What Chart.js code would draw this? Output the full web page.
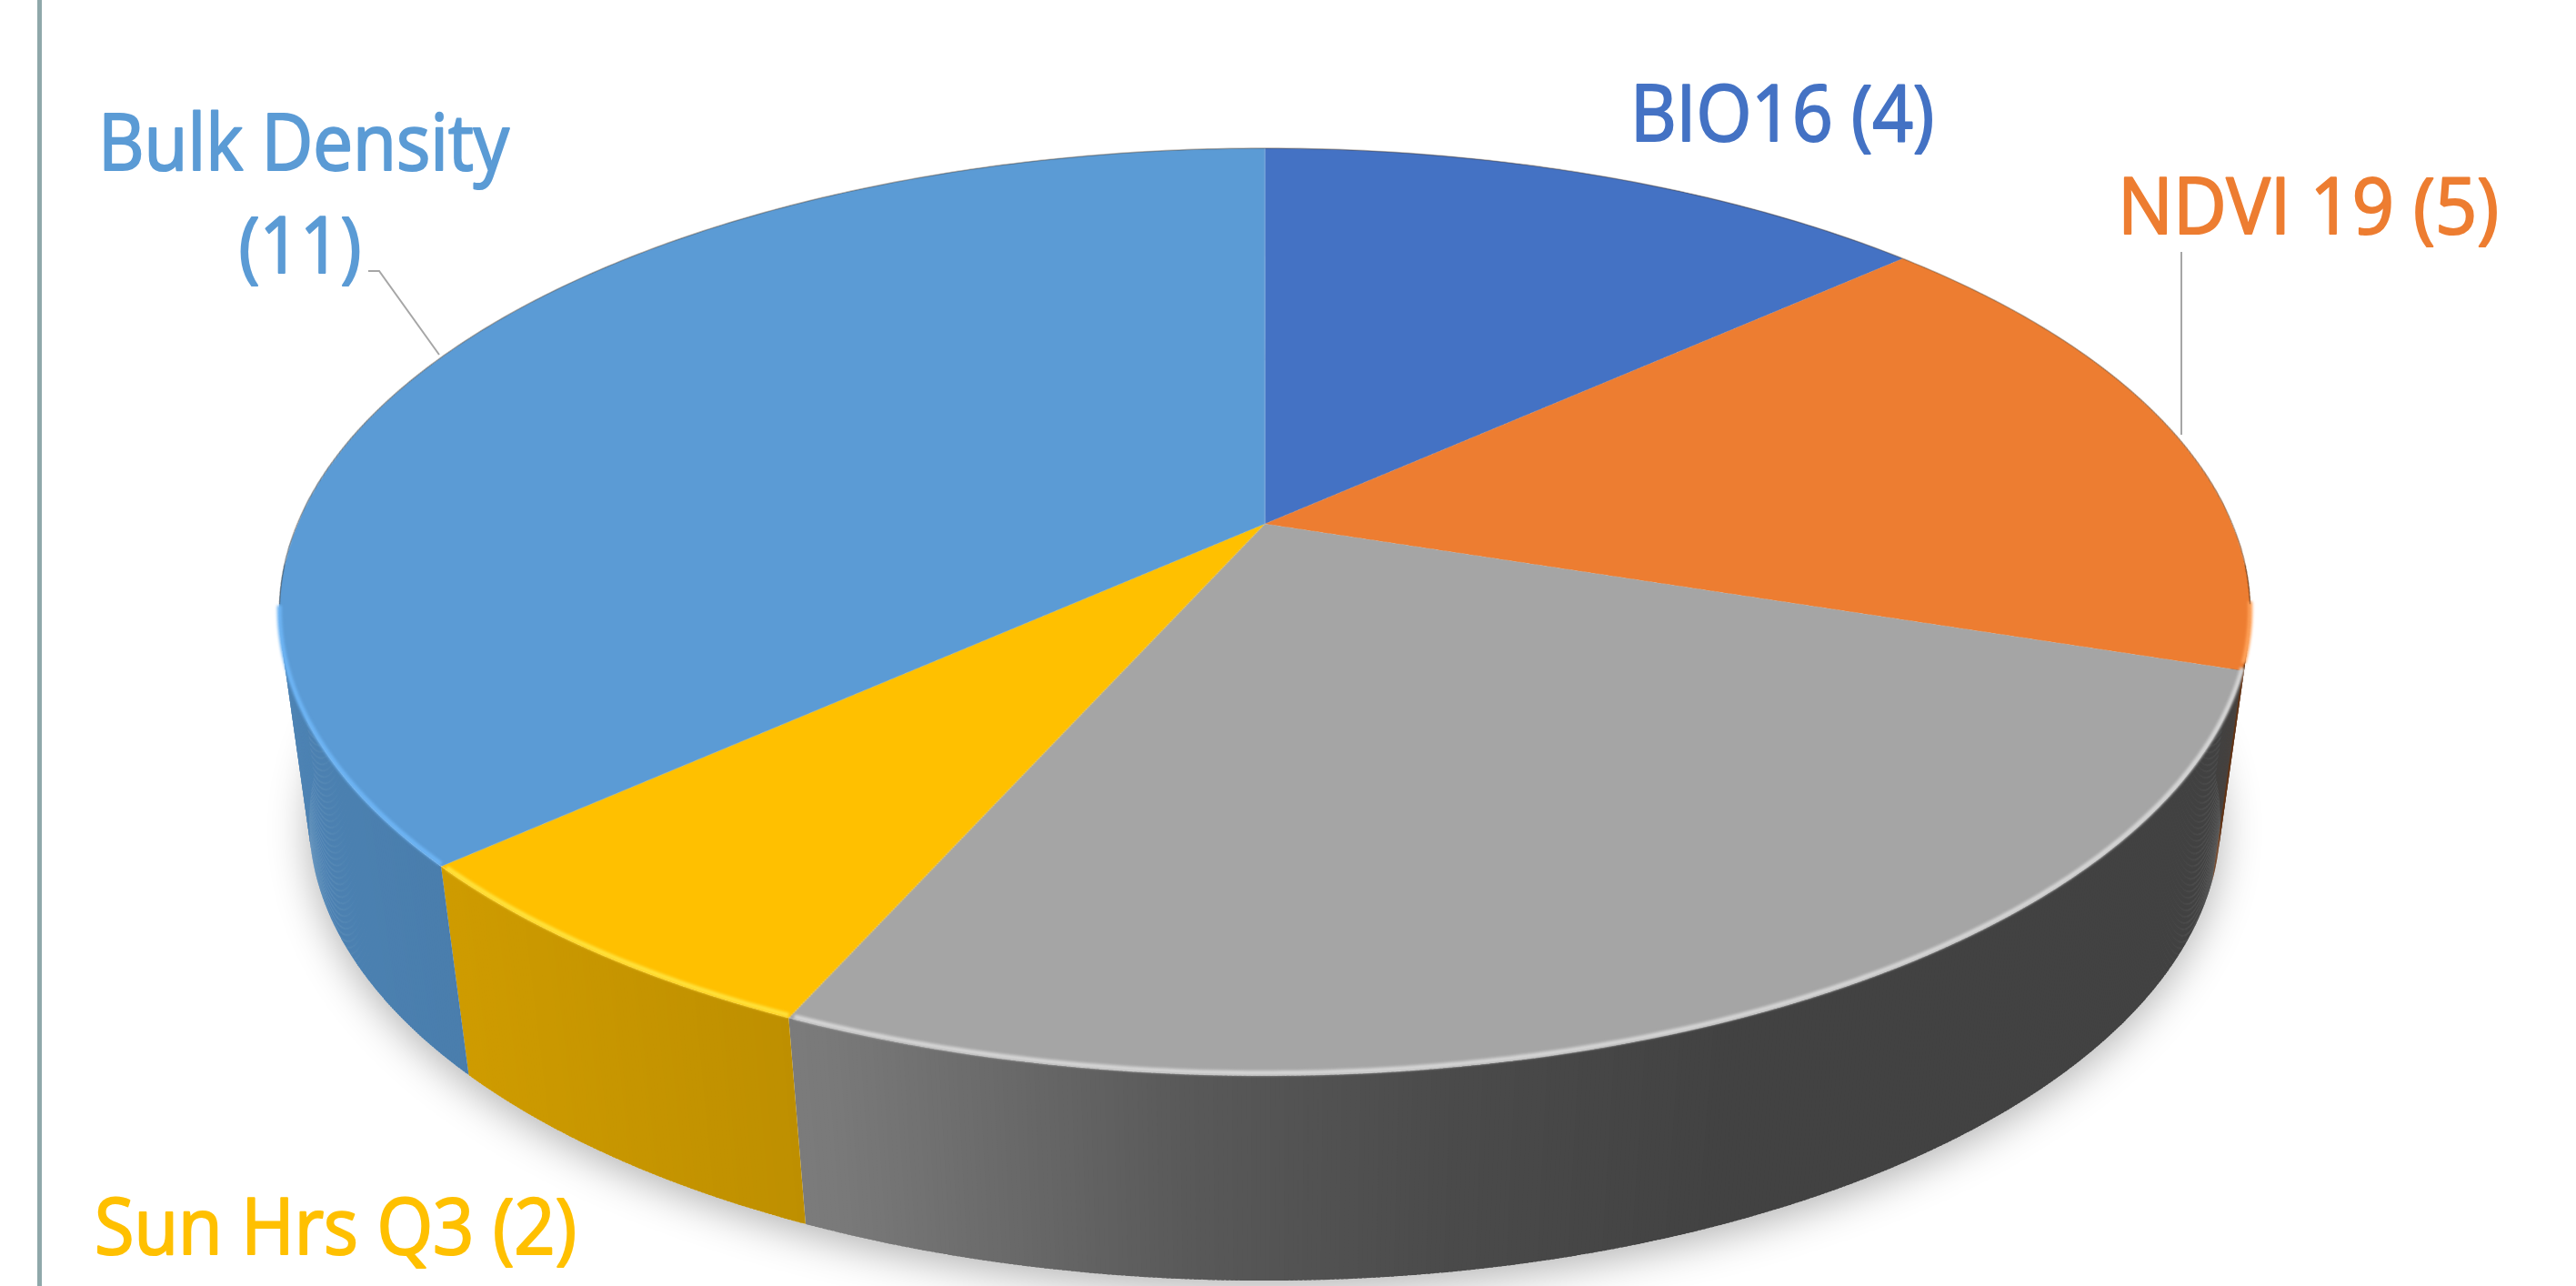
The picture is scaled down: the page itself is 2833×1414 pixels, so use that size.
<!DOCTYPE html>
<html><head><meta charset="utf-8">
<script src="https://cdn.jsdelivr.net/npm/chart.js@4.4.1/dist/chart.umd.min.js"></script>
<style>html,body{margin:0;padding:0;background:#fff;overflow:hidden}#wrap{width:2833px;height:1414px;position:relative}canvas{display:block}</style>
</head><body><div id="wrap"><canvas id="c" width="2833" height="1414"></canvas></div>
<script>
// ---- data ----
const categories = ["BIO16", "NDVI 19", "Other", "Sun Hrs Q3", "Bulk Density"];
const values = [4, 5, 8, 2, 11];
const showLabel = [true, true, false, true, true];

// ---- styles ----
const colors = ["#4472C4", "#ED7D31", "#A5A5A5", "#FFC000", "#5B9BD5"];
const rimLight = ["#6E9BE8", "#FFA25A", "#D6D6D6", "#FFE23C", "#6DB4F4"];
const labelLayout = [
  {x: 1793, y: 155, w: 334, align: "left"},
  {x: 2329, y: 257, w: 419, align: "left"},
  null,
  {x: 104, y: 1379, w: 530, align: "left"},
  {x: 334, y: 187, w: 452, align: "center", line2: {x: 330, y: 300, w: 135}}
];
// projection of the top and bottom discs (perspective)
const TOP = {cx: 1391, k: 1064, a: 382, b: 576, c: -0.19};
const BOT = {cx: 1391, k: 1033, a: 340, b: 809, c: -0.184};

function hexRgb(h){h=h.replace('#','');return [parseInt(h.slice(0,2),16),parseInt(h.slice(2,4),16),parseInt(h.slice(4,6),16)];}
function proj(P, th){const X=Math.sin(th), z=-Math.cos(th); const d=1+P.c*z; return [P.cx+P.k*X/d, (P.a*z+P.b)/d];}
function shade(x){
  const pts=[[0,0.86],[300,0.84],[900,0.74],[1300,0.54],[1600,0.45],[1900,0.40],[2833,0.40]];
  for(let i=1;i<pts.length;i++){ if(x<=pts[i][0]){const [x0,f0]=pts[i-1],[x1,f1]=pts[i];return f0+(f1-f0)*(x-x0)/(x1-x0);} }
  return 0.4;
}

const pie3d = {
  id: 'pie3d',
  afterDatasetsDraw(chart){
    const ctx = chart.ctx;
    const meta = chart.getDatasetMeta(0);
    const el0 = meta.data[0];
    const Cx = el0.x, Cy = el0.y, R = el0.outerRadius;
    const W = chart.canvas.width, H = chart.canvas.height;
    const off = document.createElement('canvas'); off.width = W; off.height = H;
    off.getContext('2d').drawImage(chart.canvas, 0, 0);
    ctx.save();
    ctx.setTransform(1,0,0,1,0,0);
    ctx.clearRect(0,0,W,H);
    ctx.fillStyle = '#fff'; ctx.fillRect(0,0,W,H);

    // soft shadow under the disc
    ctx.save();
    ctx.beginPath();
    for(let t=0;t<=360;t+=1){const p=proj(BOT,t*Math.PI/180); if(t===0)ctx.moveTo(p[0],p[1]); else ctx.lineTo(p[0],p[1]);}
    ctx.closePath();
    ctx.shadowColor='rgba(0,0,0,0.30)'; ctx.shadowBlur=45; ctx.shadowOffsetY=10;
    ctx.fillStyle='#fff'; ctx.fill();
    ctx.restore();

    // side walls (front half)
    const lo = 95*Math.PI/180, hi = 265*Math.PI/180, step = 0.004;
    meta.data.forEach((el, i) => {
      const ts = el.startAngle + Math.PI/2, te = el.endAngle + Math.PI/2;
      const a = Math.max(ts, lo), b = Math.min(te, hi);
      if (b <= a) return;
      const base = hexRgb(colors[i]);
      for(let t=a; t<b; t+=step){
        const t2 = Math.min(t+step*1.6, b);
        const p1=proj(TOP,t), p2=proj(TOP,t2), q2=proj(BOT,t2), q1=proj(BOT,t);
        const f = shade((p1[0]+p2[0])/2);
        ctx.fillStyle = `rgb(${Math.round(base[0]*f)},${Math.round(base[1]*f)},${Math.round(base[2]*f)})`;
        ctx.beginPath(); ctx.moveTo(p1[0],p1[1]); ctx.lineTo(p2[0],p2[1]); ctx.lineTo(q2[0],q2[1]); ctx.lineTo(q1[0],q1[1]); ctx.closePath(); ctx.fill();
      }
    });

    // top face: warp the library-drawn pie with perspective, row by row
    for(let y=150; y<1195; y++){
      const yc = y+0.5;
      const z = (yc - TOP.b)/(TOP.a - TOP.c*yc);
      if (z < -1 || z > 1) continue;
      const s = TOP.k/(1+TOP.c*z);
      const sy = Cy + R*z;
      ctx.drawImage(off, Cx-R, sy-0.5, 2*R, 1, TOP.cx - s, y, 2*s, 1);
    }

    // rim highlight on the front edge
    ctx.save();
    ctx.filter = 'blur(1.5px)';
    ctx.lineWidth = 5; ctx.lineCap='butt';
    meta.data.forEach((el, i) => {
      const ts = el.startAngle + Math.PI/2, te = el.endAngle + Math.PI/2;
      const a = Math.max(ts, 100*Math.PI/180), b = Math.min(te, 260*Math.PI/180);
      if (b <= a) return;
      ctx.strokeStyle = rimLight[i];
      ctx.beginPath();
      for(let t=a; t<=b+1e-9; t+=0.01){const p=proj(TOP,Math.min(t,b)); const yy=p[1]-3; if(t===a)ctx.moveTo(p[0],yy); else ctx.lineTo(p[0],yy);}
      ctx.stroke();
    });
    ctx.restore();
    // thin dark outline on back rim
    ctx.save();
    ctx.lineWidth = 1.5; ctx.strokeStyle='rgba(60,40,20,0.35)';
    ctx.beginPath();
    for(let d=-100; d<=100; d+=0.5){const p=proj(TOP,d*Math.PI/180); if(d===-100)ctx.moveTo(p[0],p[1]); else ctx.lineTo(p[0],p[1]);}
    ctx.stroke();
    ctx.restore();
    ctx.restore();
  },
  afterDraw(chart){
    const ctx = chart.ctx;
    ctx.save();
    ctx.setTransform(1,0,0,1,0,0);
    // left border line
    ctx.fillStyle = '#8FA8AA';
    ctx.fillRect(41, 0, 5, 1414);
    // leader lines
    ctx.strokeStyle = '#A6A6A6'; ctx.lineWidth = 2;
    ctx.beginPath(); ctx.moveTo(405, 298); ctx.lineTo(417, 298); ctx.lineTo(483, 390); ctx.stroke();
    ctx.beginPath(); ctx.moveTo(2399, 277); ctx.lineTo(2399, 478); ctx.stroke();
    // labels
    ctx.font = '400 86px "Open Sans", "Noto Sans", sans-serif';
    ctx.textBaseline = 'alphabetic';
    ctx.lineWidth = 2.2; ctx.lineJoin = 'round';
    const put = (txt, x, y, w) => { ctx.fillText(txt, x, y, w); ctx.strokeText(txt, x, y, w); };
    categories.forEach((cat, i) => {
      const L = labelLayout[i];
      if (!showLabel[i] || !L) return;
      ctx.fillStyle = colors[i]; ctx.strokeStyle = colors[i];
      ctx.textAlign = L.align;
      if (L.line2) {
        put(cat, L.x, L.y, L.w);
        ctx.textAlign = 'center';
        put('(' + values[i] + ')', L.line2.x, L.line2.y, L.line2.w);
      } else {
        put(cat + ' (' + values[i] + ')', L.x, L.y, L.w);
      }
    });
    ctx.restore();
  }
};

new Chart(document.getElementById('c'), {
  type: 'pie',
  data: { labels: categories, datasets: [{ data: values, backgroundColor: colors, borderWidth: 0 }] },
  options: {
    responsive: false, animation: false, devicePixelRatio: 1,
    rotation: 0,
    layout: { padding: 0 },
    plugins: { legend: { display: false }, tooltip: { enabled: false } }
  },
  plugins: [pie3d]
});
</script>
</body></html>
